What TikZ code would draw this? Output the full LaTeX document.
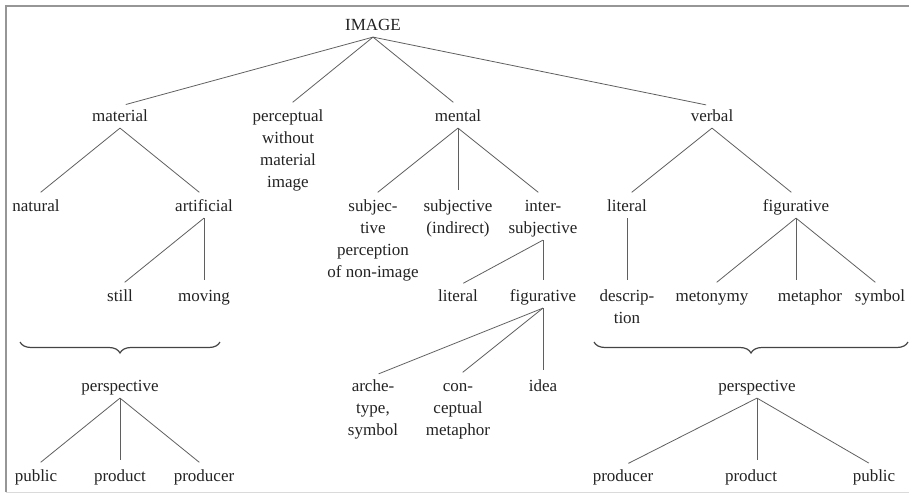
\documentclass[tikz,border=0pt]{standalone}
\usepackage{fontspec}
\setmainfont{Liberation Serif}
\usetikzlibrary{decorations.pathreplacing}
\definecolor{txt}{RGB}{35,35,35}
\definecolor{edge}{RGB}{95,95,95}
\definecolor{frame}{RGB}{150,150,150}
\newcommand{\ml}[1]{\begin{tabular}[t]{@{}c@{}}#1\end{tabular}}
\tikzset{
  lbl/.style={anchor=base, inner sep=0pt, outer sep=0pt, text=txt,
    font=\fontsize{17}{22}\selectfont},
  edgeline/.style={draw=edge, line width=0.8pt, shorten >=6pt},
  bracestyle/.style={draw=txt!85, line width=1.2pt, decorate,
    decoration={brace, mirror, amplitude=11pt}}
}
\begin{document}
\begin{tikzpicture}[x=1pt,y=-1pt]
\useasboundingbox (0,0) rectangle (909,495);
% frame
\coordinate (f1) at (6,492);
\coordinate (f2) at (6,6);
\coordinate (f3) at (909,6);
\draw[frame, line width=1.5pt] (f1) -- (f2) -- (f3);
\draw[frame!35, line width=0.8pt] (6,492) -- (909,492);
% level 0
\node[lbl] (img) at (373,30.5) {\ml{IMAGE}};
% level 1
\node[lbl] (mat) at (120,121.5) {\ml{material}};
\node[lbl] (perc) at (288,121.5) {\ml{perceptual\\without\\material\\image}};
\node[lbl] (ment) at (458,121.5) {\ml{mental}};
\node[lbl] (verb) at (712,121.5) {\ml{verbal}};
% level 2
\node[lbl] (nat) at (36,211.5) {\ml{natural}};
\node[lbl] (art) at (204,211.5) {\ml{artificial}};
\node[lbl] (subj) at (373,211.5) {\ml{subjec-\\tive\\perception\\of non-image}};
\node[lbl] (subi) at (458,211.5) {\ml{subjective\\(indirect)}};
\node[lbl] (inter) at (543,211.5) {\ml{inter-\\subjective}};
\node[lbl] (vlit) at (627,211.5) {\ml{literal}};
\node[lbl] (vfig) at (796,211.5) {\ml{figurative}};
% level 3
\node[lbl] (still) at (120,301.5) {\ml{still}};
\node[lbl] (mov) at (204,301.5) {\ml{moving}};
\node[lbl] (mlit) at (458,301.5) {\ml{literal}};
\node[lbl] (mfig) at (543,301.5) {\ml{figurative}};
\node[lbl] (desc) at (627,301.5) {\ml{descrip-\\tion}};
\node[lbl] (meto) at (712,301.5) {\ml{metonymy}};
\node[lbl] (meta) at (810,301.5) {\ml{metaphor}};
\node[lbl] (symb) at (880,301.5) {\ml{symbol}};
% level 4
\node[lbl] (arch) at (373,391.5) {\ml{arche-\\type,\\symbol}};
\node[lbl] (conc) at (458,391.5) {\ml{con-\\ceptual\\metaphor}};
\node[lbl] (idea) at (543,391.5) {\ml{idea}};
\node[lbl] (perl) at (120,391.5) {\ml{perspective}};
\node[lbl] (perr) at (757,391.5) {\ml{perspective}};
% level 5
\node[lbl] (pubL) at (36,481.5) {\ml{public}};
\node[lbl] (prodL) at (120,481.5) {\ml{product}};
\node[lbl] (prdrL) at (204,481.5) {\ml{producer}};
\node[lbl] (prdrR) at (623,481.5) {\ml{producer}};
\node[lbl] (prodR) at (751,481.5) {\ml{product}};
\node[lbl] (pubR) at (874,481.5) {\ml{public}};
% braces
\coordinate (bl1) at (20,342);
\coordinate (bl2) at (220,342);
\coordinate (br1) at (594,342);
\coordinate (br2) at (908,342);
\draw[bracestyle] (bl1) -- (bl2);
\draw[bracestyle] (br1) -- (br2);
% edges
\foreach \p/\c in {img/mat, img/perc, img/ment, img/verb,
  mat/nat, mat/art, art/still, art/mov,
  ment/subj, ment/subi, ment/inter, inter/mlit, inter/mfig,
  mfig/arch, mfig/conc, mfig/idea,
  verb/vlit, verb/vfig, vlit/desc, vfig/meto, vfig/symb,
  perl/pubL, perl/prodL, perl/prdrL,
  perr/prdrR, perr/pubR}
  \draw[edgeline] (\p.south) -- (\c.north);
\draw[edgeline] (vfig.south) -- (vfig.south |- meta.north);
\draw[edgeline] (perr.south) -- (perr.south |- prodR.north);
\end{tikzpicture}
\end{document}
